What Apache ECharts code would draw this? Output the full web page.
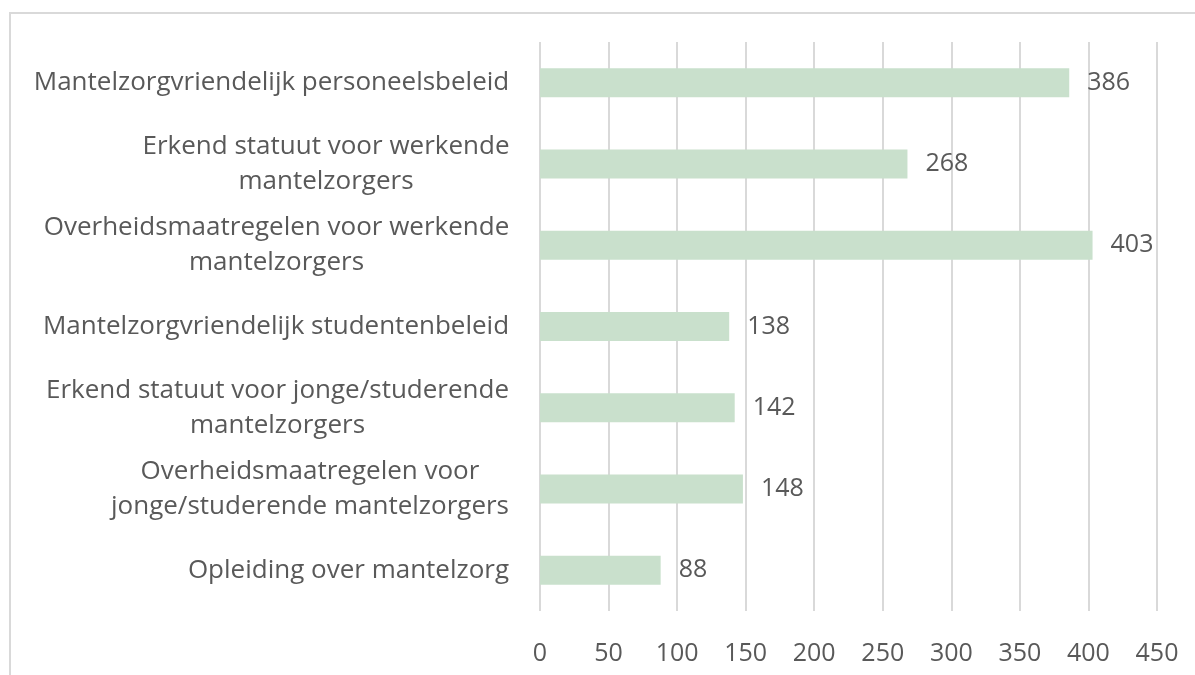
<!DOCTYPE html>
<html>
<head>
<meta charset="utf-8">
<style>
  html, body { margin: 0; padding: 0; background: #fff; }
  #main { width: 1195px; height: 675px; }
</style>
<script src="https://cdn.jsdelivr.net/npm/echarts@6/dist/echarts.min.js"></script>
</head>
<body>
<div id="main"></div>
<script>
var categories = [
    'Mantelzorgvriendelijk personeelsbeleid',
    'Erkend statuut voor werkende\nmantelzorgers',
    'Overheidsmaatregelen voor werkende\nmantelzorgers',
    'Mantelzorgvriendelijk studentenbeleid',
    'Erkend statuut voor jonge/studerende\nmantelzorgers',
    'Overheidsmaatregelen voor\njonge/studerende mantelzorgers',
    'Opleiding over mantelzorg'
];
var values = [386, 268, 403, 138, 142, 148, 88];

var fontFamily = '"Open Sans", "Noto Sans", sans-serif';
var catFontSize = 26;
var numFontSize = 25;
var textColor = '#595959';

// measure each label so multi-line labels can be centred line by line
var ctx = document.createElement('canvas').getContext('2d');
ctx.font = catFontSize + 'px "Open Sans"';
var rich = {};
categories.forEach(function (c, i) {
    var w = 0;
    c.split('\n').forEach(function (line) {
        w = Math.max(w, ctx.measureText(line).width);
    });
    rich['l' + i] = {
        width: Math.ceil(w) + 1,
        align: 'center',
        fontSize: catFontSize,
        fontFamily: fontFamily,
        color: textColor,
        lineHeight: 35
    };
});

var myChart = echarts.init(document.getElementById('main'));

var option = {
    animation: false,
    backgroundColor: '#fff',
    graphic: [{
        type: 'rect',
        shape: { x: 10, y: 13, width: 1200, height: 700 },
        style: { fill: 'none', stroke: '#d9d9d9', lineWidth: 2 },
        silent: true
    }],
    grid: {
        left: 540,
        right: 38,
        top: 42,
        bottom: 64
    },
    xAxis: {
        type: 'value',
        min: 0,
        max: 450,
        interval: 50,
        axisLine: { show: false },
        axisTick: { show: false },
        axisLabel: {
            margin: 30,
            fontSize: numFontSize,
            fontFamily: fontFamily,
            color: textColor
        },
        splitLine: { lineStyle: { color: '#d9d9d9', width: 2 } }
    },
    yAxis: {
        type: 'category',
        inverse: true,
        data: categories,
        axisLine: { show: false },
        axisTick: { show: false },
        axisLabel: {
            margin: 30,
            formatter: function (value, index) {
                return value.split('\n').map(function (line) {
                    return '{l' + index + '|' + line + '}';
                }).join('\n');
            },
            rich: rich
        }
    },
    series: [{
        type: 'bar',
        data: values,
        barWidth: 29,
        itemStyle: { color: '#c9e0cc' },
        label: {
            show: true,
            position: 'right',
            distance: 18,
            fontSize: numFontSize,
            fontFamily: fontFamily,
            color: textColor
        }
    }]
};
myChart.setOption(option);
</script>
</body>
</html>
